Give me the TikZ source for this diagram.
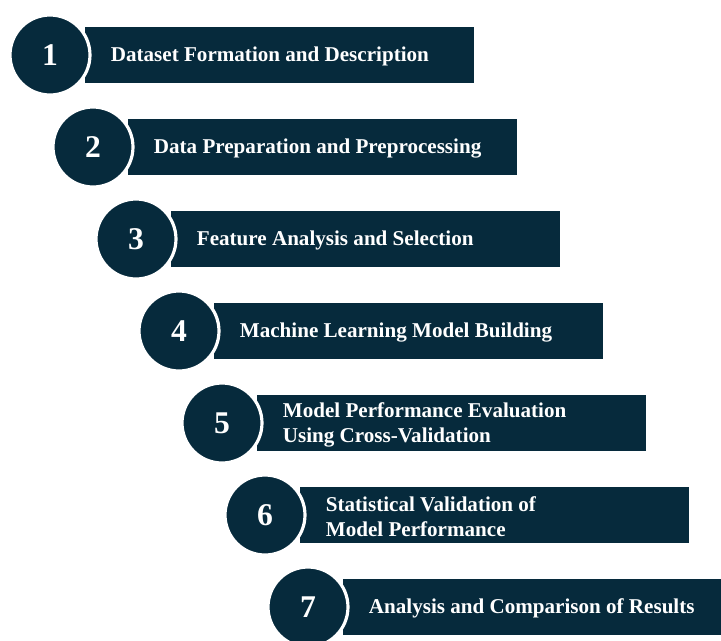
\documentclass[tikz,border=0pt]{standalone}
\usepackage{fontspec}
\setmainfont{Liberation Serif}
\usetikzlibrary{positioning}
\definecolor{navy}{HTML}{062A3C}
\tikzset{
  bar/.style      = {fill=navy, inner sep=0pt,
                     minimum width=7.78cm, minimum height=1.12cm},
  badge/.style    = {circle, fill=navy, draw=white, line width=1.8pt,
                     minimum size=1.6cm, inner sep=0pt, text=white,
                     font=\fontsize{18}{20}\selectfont\bfseries},
  steptext/.style = {text=white, align=left, inner sep=0pt,
                     font=\fontsize{12}{14}\selectfont\bfseries},
}

\begin{document}
\begin{tikzpicture}[x=0.02cm, y=-0.02cm]
\useasboundingbox (0,0) rectangle (721,640);
\clip (0,0) rectangle (721,640);

% staircase of numbered steps
\foreach \txt [count=\n] in {
    Dataset Formation and Description,
    Data Preparation and Preprocessing,
    Feature Analysis and Selection,
    Machine Learning Model Building,
    {Model Performance Evaluation\\Using Cross-Validation},
    {Statistical Validation of\\Model Performance},
    Analysis and Comparison of Results}
{
  \pgfmathsetmacro{\cx}{50+43*(\n-1)}
  \pgfmathsetmacro{\cy}{55+92*(\n-1)}
  \coordinate (p\n) at (\cx,\cy);
  \node[bar, right=0.7cm of p\n] (b\n) {};
  \node[badge] (c\n) at (p\n) {\n};
  \node[steptext, right=0.38cm of c\n.east, yshift=-1pt] (t\n) {\txt};
}
\end{tikzpicture}
\end{document}
